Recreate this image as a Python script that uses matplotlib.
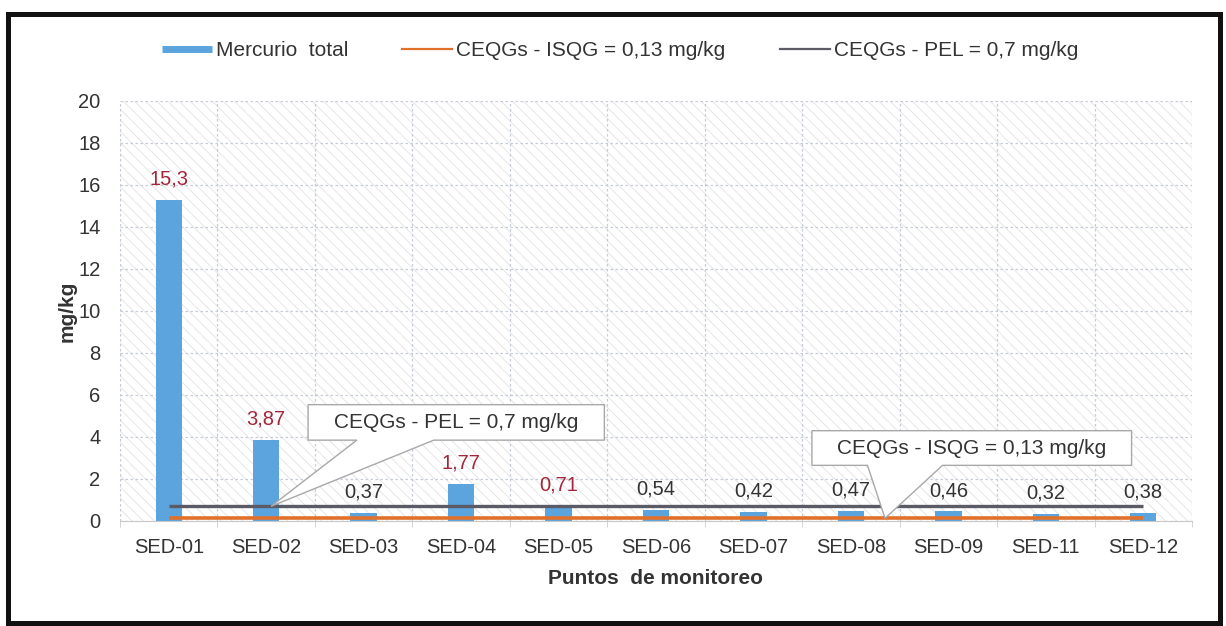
import matplotlib
matplotlib.use("Agg")
import matplotlib.pyplot as plt
from matplotlib.patches import Rectangle, Polygon
from matplotlib.lines import Line2D
import numpy as np

# ---- data ----
puntos = ["SED-01", "SED-02", "SED-03", "SED-04", "SED-05", "SED-06",
          "SED-07", "SED-08", "SED-09", "SED-11", "SED-12"]
mercurio = [15.3, 3.87, 0.37, 1.77, 0.71, 0.54, 0.42, 0.47, 0.46, 0.32, 0.38]
isqg = 0.13
pel = 0.7
yticks = [0, 2, 4, 6, 8, 10, 12, 14, 16, 18, 20]

plt.rcParams['font.family'] = ['Liberation Sans', 'DejaVu Sans']
plt.rcParams['hatch.color'] = '#e2e2e2'
plt.rcParams['hatch.linewidth'] = 0.6

FS = 14.5
FL = 15
txt = '#333333'
blue = '#5ca4de'
orange = '#e0702a'
gray = '#5b5b66'
red = '#a3263a'

fig = plt.figure(figsize=(12.26, 6.26), dpi=100)
ax = fig.add_axes([120/1226, 1-521/626, (1192-120)/1226, (521-101)/626])

x = np.arange(len(puntos))
# hatched background
ax.add_patch(Rectangle((0, 0), 1, 1, transform=ax.transAxes, facecolor='white',
                       edgecolor='#e2e2e2', hatch='\\\\\\', linewidth=0, zorder=0))

bars = ax.bar(x, mercurio, width=0.27, color=blue, zorder=2)
ax.plot(x, [isqg]*len(x), color=orange, lw=2.6, zorder=3, solid_capstyle='butt')
ax.plot(x, [pel]*len(x), color=gray, lw=2.4, zorder=3, solid_capstyle='butt')

for xi, v in zip(x, mercurio):
    ax.annotate(str(v).replace('.', ','), (xi, v), xytext=(0, 15),
                textcoords='offset points', ha='center', va='center',
                fontsize=FS, color=red if v > pel else txt, zorder=5)

ax.set_xlim(-0.5, len(puntos)-0.5)
ax.set_ylim(0, 20)
ax.set_yticks(yticks)
ax.set_yticklabels([str(t) for t in yticks])
ax.set_xticks(x)
ax.set_xticklabels(puntos)
ax.set_xticks(np.arange(len(puntos)+1) - 0.5, minor=True)
ax.tick_params(axis='both', which='major', length=0, labelsize=FS, labelcolor=txt)
ax.tick_params(axis='y', pad=14)
ax.tick_params(axis='x', pad=12)
ax.tick_params(axis='x', which='minor', length=4, color='#cccccc')
ax.grid(True, axis='y', which='major', color='#c5ccd8', linestyle=(0, (2, 2)), lw=0.9, zorder=1)
ax.grid(True, axis='x', which='minor', color='#c5ccd8', linestyle=(0, (2, 2)), lw=0.9, zorder=1)
ax.set_axisbelow(True)
for s in ['top', 'right', 'left']:
    ax.spines[s].set_visible(False)
ax.spines['bottom'].set_color('#c8c8c8')

ax.set_ylabel('mg/kg', fontsize=15, fontweight='bold', color=txt, labelpad=1)
ax.set_xlabel('Puntos  de monitoreo', fontsize=15, fontweight='bold',
              color=txt, labelpad=9)

# callouts
def callout(x0, x1, y0, y1, xa, xb, tip, text):
    verts = [(x0, y0), (xa, y0), tip, (xb, y0), (x1, y0), (x1, y1), (x0, y1)]
    ax.add_patch(Polygon(verts, closed=True, facecolor='white', edgecolor='#a8a8a8',
                         lw=1.0, zorder=4))
    ax.text((x0+x1)/2, (y0+y1)/2, text, ha='center', va='center', fontsize=FL,
            color=txt, zorder=5)

callout(1.43, 4.47, 3.85, 5.54, 1.93, 2.72, (1.05, pel),
        'CEQGs - PEL = ' + str(pel).replace('.', ',') + ' mg/kg')
callout(6.6, 9.88, 2.65, 4.3, 7.17, 7.94, (7.35, isqg),
        'CEQGs - ISQG = ' + str(isqg).replace('.', ',') + ' mg/kg')

# legend
handles = [Line2D([], [], color=blue, lw=5, solid_capstyle='butt'),
           Line2D([], [], color=orange, lw=1.6),
           Line2D([], [], color=gray, lw=1.6)]
labels = ['Mercurio  total',
          'CEQGs - ISQG = ' + str(isqg).replace('.', ',') + ' mg/kg',
          'CEQGs - PEL = ' + str(pel).replace('.', ',') + ' mg/kg']
fig.legend(handles, labels, loc='center', bbox_to_anchor=(620/1226, 1-51/626), ncol=3,
           frameon=False, fontsize=FL, handlelength=2.4, handletextpad=0.2,
           columnspacing=2.6, labelcolor=txt, borderpad=0)

# outer frame
fig.add_artist(Rectangle((8/1226, 1-623/626), (1220-8)/1226, (623-14)/626,
                         transform=fig.transFigure, fill=False, edgecolor='#111111', lw=3.6))

fig.savefig('out.png', dpi=100, facecolor='white')
